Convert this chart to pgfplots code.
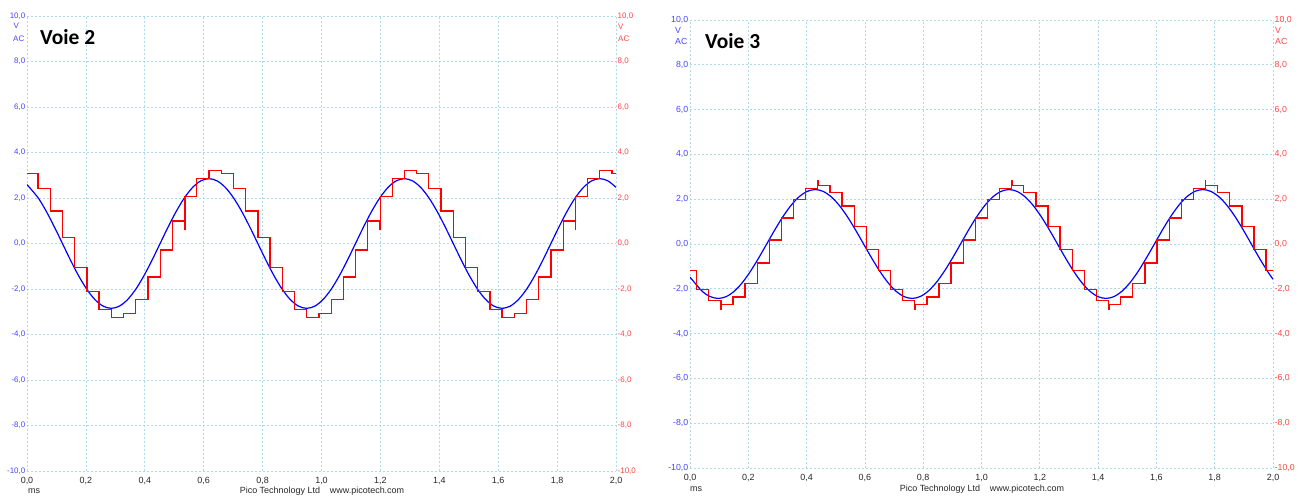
\documentclass[border=0pt]{standalone}
\usepackage{pgfplots}
\pgfplotsset{compat=1.18}
\usepackage{pgfplotstable}
\usepackage{fontspec}
\setmainfont{Liberation Sans}
\newfontfamily\titlefont{Carlito}
\definecolor{gridc}{RGB}{176,218,234}
\definecolor{lblue}{RGB}{70,70,255}
\definecolor{lred}{RGB}{255,70,70}
\definecolor{tickc}{RGB}{40,40,40}
\definecolor{sigred}{RGB}{255,0,0}
\definecolor{sigblue}{RGB}{0,0,255}

\pgfplotstableread{
t v
0 3.07
0.0375 2.41
0.0789 1.43
0.1204 0.25
0.1619 -1.05
0.2034 -2.12
0.2448 -2.89
0.2863 -3.25
0.3278 -3.07
0.3692 -2.45
0.4107 -1.47
0.4522 -0.29
0.4936 0.99
0.5351 0.62
0.5361 2.06
0.5766 2.85
0.6181 3.21
0.6595 3.07
0.7010 2.41
0.7425 1.43
0.7839 0.25
0.8254 -1.05
0.8669 -2.12
0.9083 -2.89
0.9498 -3.25
0.9913 -3.07
1.0328 -2.45
1.0742 -1.47
1.1157 -0.29
1.1572 0.99
1.1986 0.62
1.1996 2.06
1.2401 2.85
1.2816 3.21
1.3230 3.07
1.3645 2.41
1.4060 1.43
1.4474 0.25
1.4889 -1.05
1.5304 -2.12
1.5719 -2.89
1.6133 -3.25
1.6548 -3.07
1.6963 -2.45
1.7377 -1.47
1.7792 -0.29
1.8207 0.99
1.8621 0.62
1.8631 2.06
1.9036 2.85
1.9451 3.21
1.9865 3.07
2.0 3.07
}\redA

\pgfplotstableread{
t v
0 2.588
0.0373 2.015
0.0650 1.425
0.0926 0.738
0.1203 0
0.1479 -0.738
0.1755 -1.425
0.2032 -2.015
0.2308 -2.468
0.2585 -2.753
0.2861 -2.85
0.3138 -2.753
0.3414 -2.468
0.3691 -2.015
0.3967 -1.425
0.4244 -0.738
0.4520 0
0.4796 0.738
0.5073 1.425
0.5349 2.015
0.5626 2.468
0.5902 2.753
0.6179 2.85
0.6455 2.753
0.6732 2.468
0.7008 2.015
0.7285 1.425
0.7561 0.738
0.7838 0
0.8114 -0.738
0.8391 -1.425
0.8667 -2.015
0.8943 -2.468
0.9220 -2.753
0.9496 -2.85
0.9773 -2.753
1.0049 -2.468
1.0326 -2.015
1.0602 -1.425
1.0879 -0.738
1.1155 0
1.1432 0.738
1.1708 1.425
1.1985 2.015
1.2261 2.468
1.2537 2.753
1.2814 2.85
1.3090 2.753
1.3367 2.468
1.3643 2.015
1.3920 1.425
1.4196 0.738
1.4473 0
1.4749 -0.738
1.5026 -1.425
1.5302 -2.015
1.5579 -2.468
1.5855 -2.753
1.6131 -2.85
1.6408 -2.753
1.6684 -2.468
1.6961 -2.015
1.7237 -1.425
1.7514 -0.738
1.7790 0
1.8067 0.738
1.8343 1.425
1.8620 2.015
1.8896 2.468
1.9172 2.753
1.9449 2.85
1.9725 2.753
2.0 2.47
}\blueA

\pgfplotstableread{
t v
0 -1.19
0.0229 -2.03
0.0644 -2.51
0.1060 -2.92
0.1070 -2.69
0.1475 -2.36
0.1891 -1.75
0.2307 -0.85
0.2722 0.18
0.3138 1.16
0.3553 1.99
0.3969 2.49
0.4385 2.82
0.4395 2.61
0.4800 2.30
0.5216 1.70
0.5631 0.79
0.6047 -0.25
0.6463 -1.19
0.6878 -2.03
0.7294 -2.51
0.7709 -2.92
0.7719 -2.69
0.8125 -2.36
0.8541 -1.75
0.8956 -0.85
0.9372 0.18
0.9787 1.16
1.0203 1.99
1.0619 2.49
1.1034 2.82
1.1044 2.61
1.1450 2.30
1.1865 1.70
1.2281 0.79
1.2697 -0.25
1.3112 -1.19
1.3528 -2.03
1.3943 -2.51
1.4359 -2.92
1.4369 -2.69
1.4775 -2.36
1.5190 -1.75
1.5606 -0.85
1.6021 0.18
1.6437 1.16
1.6853 1.99
1.7268 2.49
1.7684 2.82
1.7694 2.61
1.8099 2.30
1.8515 1.70
1.8931 0.79
1.9346 -0.25
1.9762 -1.19
2.0 -1.19
}\redB

\pgfplotstableread{
t v
0 -1.48
0.0414 -2.104
0.0691 -2.347
0.0968 -2.43
0.1245 -2.347
0.1522 -2.104
0.1799 -1.718
0.2076 -1.215
0.2353 -0.629
0.2630 0
0.2908 0.629
0.3185 1.215
0.3462 1.718
0.3739 2.104
0.4016 2.347
0.4293 2.43
0.4570 2.347
0.4847 2.104
0.5124 1.718
0.5401 1.215
0.5678 0.629
0.5955 0
0.6233 -0.629
0.6510 -1.215
0.6787 -1.718
0.7064 -2.104
0.7341 -2.347
0.7618 -2.43
0.7895 -2.347
0.8172 -2.104
0.8449 -1.718
0.8726 -1.215
0.9004 -0.629
0.9281 0
0.9558 0.629
0.9835 1.215
1.0112 1.718
1.0389 2.104
1.0666 2.347
1.0943 2.43
1.1220 2.347
1.1497 2.104
1.1774 1.718
1.2052 1.215
1.2329 0.629
1.2606 0
1.2883 -0.629
1.3160 -1.215
1.3437 -1.718
1.3714 -2.104
1.3991 -2.347
1.4268 -2.43
1.4545 -2.347
1.4822 -2.104
1.5100 -1.718
1.5377 -1.215
1.5654 -0.629
1.5931 0
1.6208 0.629
1.6485 1.215
1.6762 1.718
1.7039 2.104
1.7316 2.347
1.7593 2.43
1.7870 2.347
1.8148 2.104
1.8425 1.718
1.8702 1.215
1.8979 0.629
1.9256 0
1.9533 -0.629
1.9810 -1.215
2.0 -1.572
}\blueB

\pgfplotsset{
  picobase/.style={
    scale only axis,
    xmin=0, xmax=2, ymin=-10, ymax=10,
    axis line style={draw=none},
    tick style={draw=none},
    major tick length=0pt,
    ytick={-10,-8,-6,-4,-2,0,2,4,6,8,10},
    yticklabels={{-10,0},{-8,0},{-6,0},{-4,0},{-2,0},{0,0},{2,0},{4,0},{6,0},{8,0},{10,0}},
  },
  pico/.style={
    picobase,
    xtick={0,0.2,0.4,0.6,0.8,1,1.2,1.4,1.6,1.8,2},
    xticklabels={{0,0},{0,2},{0,4},{0,6},{0,8},{1,0},{1,2},{1,4},{1,6},{1,8},{2,0}},
    xticklabel style={text=tickc, anchor=north, inner sep=0pt, yshift=-6bp, font=\fontsize{9}{10}\selectfont},
    yticklabel style={text=lblue, anchor=east, inner sep=0pt, xshift=-1.5bp},
    grid=major,
    major grid style={gridc, dash pattern=on 2bp off 2bp, line width=0.7bp},
  },
  picoR/.style={
    picobase,
    xtick=\empty,
    yticklabel pos=right,
    yticklabel style={text=lred, anchor=west, inner sep=0pt, xshift=1.5bp},
  },
  redstep/.style={draw=sigred, line width=1.3bp, const plot, mark=none},
  bluesig/.style={draw=sigblue, line width=1.2bp, smooth, mark=none},
}

\begin{document}
\begin{tikzpicture}
\useasboundingbox (0,0) rectangle (1301bp,497bp);
\fill[white] (0,0) rectangle (1301bp,497bp);

% ---- Voie 2 ----
\begin{axis}[pico, at={(27bp,26bp)}, anchor=south west, width=589bp, height=455bp,
  yticklabel style={font=\fontsize{8}{9}\selectfont}]
\addplot[bluesig] table[x=t, y=v] {\blueA};
\addplot[redstep] table[x=t, y=v] {\redA};
\end{axis}
\begin{axis}[picoR, at={(27bp,26bp)}, anchor=south west, width=589bp, height=455bp,
  yticklabel style={font=\fontsize{8}{9}\selectfont}]
\end{axis}

% ---- Voie 3 ----
\begin{axis}[pico, at={(690bp,29bp)}, anchor=south west, width=583bp, height=448bp,
  yticklabel style={font=\fontsize{8.8}{10}\selectfont}]
\addplot[bluesig] table[x=t, y=v] {\blueB};
\addplot[redstep] table[x=t, y=v] {\redB};
\end{axis}
\begin{axis}[picoR, at={(690bp,29bp)}, anchor=south west, width=583bp, height=448bp,
  yticklabel style={font=\fontsize{8.8}{10}\selectfont}]
\end{axis}

% ---- unit labels ----
\begin{scope}[every node/.style={font=\fontsize{8}{9}\selectfont, inner sep=0pt, anchor=west}]
\node[text=lblue] at (13.5bp,471bp) {V};
\node[text=lblue] at (13bp,458bp) {AC};
\node[text=lred] at (618bp,470bp) {V};
\node[text=lred] at (618bp,458bp) {AC};
\end{scope}
\begin{scope}[every node/.style={font=\fontsize{8.8}{10}\selectfont, inner sep=0pt, anchor=west}]
\node[text=lblue] at (675bp,466.5bp) {V};
\node[text=lblue] at (675bp,456bp) {AC};
\node[text=lred] at (1275bp,466.5bp) {V};
\node[text=lred] at (1275bp,455.5bp) {AC};
\end{scope}

% ---- titles ----
\node[anchor=west, inner sep=0pt, font=\titlefont\bfseries\fontsize{21.5}{24}\selectfont] at (40bp,460bp) {Voie 2};
\node[anchor=west, inner sep=0pt, font=\titlefont\bfseries\fontsize{21.5}{24}\selectfont] at (705bp,456bp) {Voie 3};

% ---- footers ----
\begin{scope}[every node/.style={font=\fontsize{9}{10}\selectfont, inner sep=0pt, text=tickc}]
\node[anchor=west] at (28bp,6bp) {ms};
\node at (322bp,6bp) {Pico Technology Ltd\hspace{1.1em}www.picotech.com};
\node[anchor=west] at (690bp,7.5bp) {ms};
\node at (982bp,7.5bp) {Pico Technology Ltd\hspace{1.1em}www.picotech.com};
\end{scope}
\end{tikzpicture}
\end{document}
